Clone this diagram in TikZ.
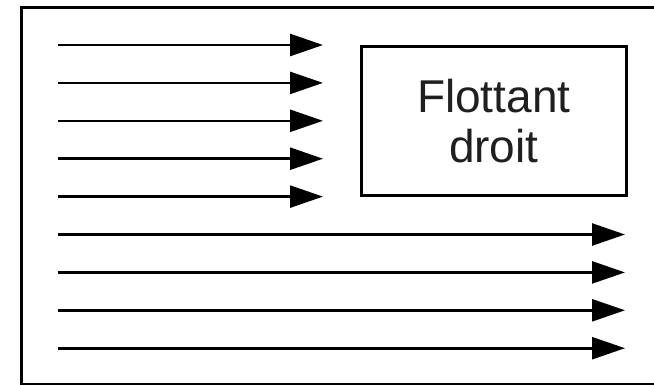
\documentclass[tikz,border=0pt]{standalone}
\usepackage{fontspec}
\setmainfont{Liberation Sans}
\usetikzlibrary{arrows.meta}
\begin{document}
\begin{tikzpicture}[x=1pt,y=-1pt,
  flow/.style={line width=2.6pt,-{Triangle[length=33pt,width=22pt]}},
  frame/.style={line width=3pt},
  floatbox/.style={draw,line width=3pt,minimum width=264.5pt,minimum height=148.5pt,inner sep=0pt,align=center,font=\fontsize{46}{50}\selectfont,text=black!88}]
\useasboundingbox (0,0) rectangle (654,384);
\begin{scope}
\clip (0,0) rectangle (654,384);
\draw[frame] (21.5,7.5) rectangle (700,384.5);
\end{scope}
\node[floatbox] (float) at (493.75,120.75) {Flottant\\droit};
\foreach \i in {0,...,4}{
  \coordinate (s\i) at (58.3,{45+37.9*\i});
  \coordinate (e\i) at (323,{45+37.9*\i});
  \draw[flow] (s\i) -- (e\i);
}
\foreach \i in {5,...,8}{
  \coordinate (s\i) at (58.3,{45+37.9*\i});
  \coordinate (e\i) at (625,{45+37.9*\i});
  \draw[flow] (s\i) -- (e\i);
}
\end{tikzpicture}
\end{document}
